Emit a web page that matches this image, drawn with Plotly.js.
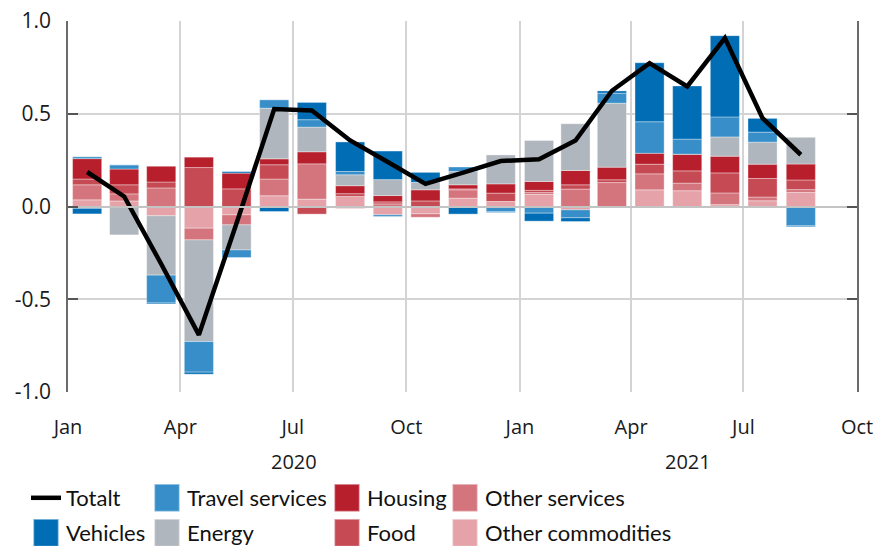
<!DOCTYPE html>
<html>
<head>
<meta charset="utf-8">
<script src="https://cdn.plot.ly/plotly-3.0.1.min.js"></script>
<style>
  html, body { margin: 0; padding: 0; background: #fff; }
  #chart { width: 876px; height: 546px; }
</style>
</head>
<body>
<div id="chart"></div>
<script>
// Months (Jan 2020 - Aug 2021)
const months = ['2020-01','2020-02','2020-03','2020-04','2020-05','2020-06','2020-07','2020-08','2020-09','2020-10','2020-11','2020-12',
                '2021-01','2021-02','2021-03','2021-04','2021-05','2021-06','2021-07','2021-08'];

// Contributions (percentage points)
const otherCommodities = [0.036, 0.030, -0.050, -0.117, -0.045, 0.058, 0.040, 0.054, -0.045, -0.040, 0.045, 0.027, 0.065, -0.018, 0.000, 0.090, 0.085, 0.010, 0.031, 0.076];
const otherServices    = [0.081, 0.038, 0.100, -0.063, -0.054, 0.090, 0.190, -0.010, 0.014, -0.018, 0.045, 0.000, 0.010, 0.094, 0.129, 0.086, 0.041, 0.063, 0.020, 0.015];
const food             = [0.031, 0.049, 0.032, 0.210, 0.095, 0.077, -0.041, 0.015, 0.011, 0.030, 0.005, 0.045, 0.012, 0.023, 0.015, 0.052, 0.066, 0.108, 0.100, 0.052];
const housing          = [0.110, 0.085, 0.085, 0.056, 0.085, 0.032, 0.065, 0.043, 0.034, 0.060, 0.022, 0.050, 0.048, 0.077, 0.068, 0.059, 0.090, 0.090, 0.077, 0.086];
const energy           = [-0.010, -0.153, -0.320, -0.548, -0.135, 0.273, 0.133, 0.059, 0.086, 0.040, 0.072, 0.156, 0.221, 0.252, 0.345, -0.005, 0.000, 0.104, 0.119, 0.144];
const travelServices   = [0.010, 0.023, -0.150, -0.165, -0.041, 0.045, 0.040, 0.018, -0.009, 0.000, 0.024, -0.027, -0.036, -0.043, 0.054, 0.170, 0.081, 0.108, 0.054, -0.104];
const vehicles         = [-0.030, 0.000, -0.005, -0.011, 0.008, -0.027, 0.093, 0.159, 0.154, 0.054, -0.041, -0.005, -0.043, -0.020, 0.012, 0.318, 0.287, 0.438, 0.074, -0.005];
const totalt           = [0.186, 0.054, -0.310, -0.692, -0.090, 0.525, 0.518, 0.356, 0.240, 0.122, 0.183, 0.245, 0.255, 0.356, 0.624, 0.773, 0.647, 0.908, 0.476, 0.279];

const yTickValues = [-1.0, -0.5, 0.0, 0.5, 1.0];
const yearLabels = ['2020', '2021'];
const xRange = ['2020-01-01', '2021-10-01'];

const colors = {
  'Other commodities': '#e5a3a9',
  'Other services': '#d4747c',
  'Food': '#c54a53',
  'Housing': '#b81f2d',
  'Energy': '#b0b6bd',
  'Travel services': '#378ec8',
  'Vehicles': '#006db5'
};

const legendSlot = {
  'Totalt': 'legend', 'Vehicles': 'legend2',
  'Travel services': 'legend3', 'Energy': 'legend4',
  'Housing': 'legend5', 'Food': 'legend6',
  'Other services': 'legend7', 'Other commodities': 'legend8'
};

const stackOrder = [
  ['Other commodities', otherCommodities],
  ['Other services', otherServices],
  ['Food', food],
  ['Housing', housing],
  ['Energy', energy],
  ['Travel services', travelServices],
  ['Vehicles', vehicles]
];

const traces = stackOrder.map(([name, vals]) => ({
  type: 'bar',
  name: name,
  x: months,
  y: vals,
  xperiod: 'M1',
  xperiodalignment: 'middle',
  marker: { color: colors[name], line: { color: 'rgba(255,255,255,0.45)', width: 0.8 } },
  legend: legendSlot[name],
  hoverinfo: 'x+y+name'
}));

traces.push({
  type: 'scatter',
  mode: 'lines',
  name: 'Totalt',
  x: months,
  y: totalt,
  xperiod: 'M1',
  xperiodalignment: 'middle',
  line: { color: '#000000', width: 4.5 },
  legend: legendSlot['Totalt']
});

const W = 876, H = 546;
function legendAt(px, py) {
  return {
    xref: 'container', yref: 'container',
    x: px / W, y: 1 - py / H,
    xanchor: 'left', yanchor: 'middle',
    orientation: 'v',
    bgcolor: 'rgba(0,0,0,0)',
    borderwidth: 0,
    itemwidth: 30,
    font: { family: 'Lato, "Open Sans", sans-serif', size: 22, color: '#111' }
  };
}

function midDate(a, b) {
  const ta = new Date(a + 'T00:00:00Z').getTime();
  const tb = new Date(b + 'T00:00:00Z').getTime();
  return new Date((ta + tb) / 2).toISOString().slice(0, 10);
}
const yearStarts = ['2020-01-01', '2021-01-01'];
const yearEnds = ['2021-01-01', xRange[1]];
const tickFont = { family: '"Open Sans", sans-serif', size: 20, color: '#1a1a1a' };
const annotations = yearLabels.map((t, i) => ({
  text: t,
  x: midDate(yearStarts[i], yearEnds[i]),
  xref: 'x',
  y: -0.186,
  yref: 'paper',
  yanchor: 'middle',
  xanchor: 'center',
  showarrow: false,
  font: tickFont
}));

const layout = {
  width: W,
  height: H,
  margin: { l: 68, r: 19, t: 21, b: 154, autoexpand: false },
  paper_bgcolor: '#fff',
  plot_bgcolor: '#fff',
  barmode: 'relative',
  bargap: 0.2,
  showlegend: true,
  font: tickFont,
  xaxis: {
    type: 'date',
    range: xRange,
    tick0: '2020-01-01',
    dtick: 'M3',
    tickformat: '%b',
    showgrid: true,
    gridcolor: '#d4d4d4',
    gridwidth: 1.5,
    showline: false,
    ticks: '',
    ticklabelstandoff: 21,
    zeroline: false,
    automargin: false,
    tickfont: tickFont
  },
  yaxis: {
    range: [-1, 1],
    tickmode: 'array',
    tickvals: yTickValues,
    ticktext: yTickValues.map(v => v.toFixed(1)),
    showgrid: true,
    gridcolor: '#d4d4d4',
    gridwidth: 1.5,
    zeroline: true,
    zerolinecolor: '#c4c4c4',
    zerolinewidth: 1.5,
    zerolinelayer: 'above traces',
    showline: true,
    linecolor: '#6b6b6b',
    linewidth: 1.5,
    mirror: 'ticks',
    ticks: 'inside',
    ticklen: 10,
    tickwidth: 1.5,
    tickcolor: '#555',
    ticklabelstandoff: 11,
    automargin: false,
    tickfont: { family: '"Open Sans", sans-serif', size: 21, color: '#1a1a1a' }
  },
  annotations: annotations,
  legend:  legendAt(26, 498),
  legend2: legendAt(26, 533),
  legend3: legendAt(147, 498),
  legend4: legendAt(147, 533),
  legend5: legendAt(327, 498),
  legend6: legendAt(327, 533),
  legend7: legendAt(445, 498),
  legend8: legendAt(445, 533)
};

function enlargeLegendSquares() {
  document.querySelectorAll('g.legendpoints path').forEach(function (p) {
    const cls = p.getAttribute('class') || '';
    if (cls.indexOf('legendbar') === -1 && cls.indexOf('legendundefined') === -1) return;
    const t = p.getAttribute('transform') || '';
    if (t.indexOf('scale') !== -1) return;
    p.setAttribute('transform', t + ' scale(2.1,2.3)');
  });
}

const gd = document.getElementById('chart');
Plotly.newPlot(gd, traces, layout, { displayModeBar: false }).then(function () {
  enlargeLegendSquares();
  gd.on('plotly_afterplot', enlargeLegendSquares);
  setTimeout(enlargeLegendSquares, 0);
});
</script>
</body>
</html>
